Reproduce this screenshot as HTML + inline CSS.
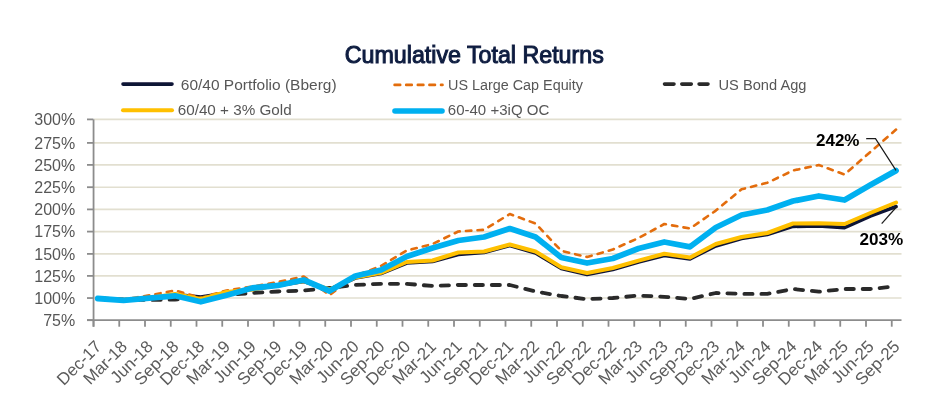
<!DOCTYPE html>
<html><head><meta charset="utf-8"><style>
html,body{margin:0;padding:0;background:#fff;}
body{width:940px;height:406px;overflow:hidden;position:relative;}
svg{position:absolute;left:0;top:0;}
text{font-family:"Liberation Sans",sans-serif;}
.g{stroke:#e2dfd0;stroke-width:1.6;}
.ax{stroke:#8c8c8c;stroke-width:1.8;}
.yl{font-size:16px;fill:#575757;}
.xl{font-size:17px;fill:#5c5c5c;}
.lg{font-size:15.4px;fill:#575757;}
.s{fill:none;stroke-linejoin:round;stroke-linecap:round;}
</style></head><body>
<svg width="940" height="406" viewBox="0 0 940 406">
<defs><filter id="bl" x="0" y="0" width="940" height="406" filterUnits="userSpaceOnUse"><feGaussianBlur stdDeviation="0.4"/></filter></defs><g filter="url(#bl)">
<text x="344.8" y="63" font-size="23" font-weight="normal" fill="#101c40" stroke="#101c40" stroke-width="1.0" textLength="259" lengthAdjust="spacingAndGlyphs">Cumulative Total Returns</text>
<line x1="123" y1="84.1" x2="172" y2="84.1" stroke="#0c1236" stroke-width="3.6" stroke-linecap="round"/>
<text x="180.8" y="89.6" class="lg" textLength="155.8" lengthAdjust="spacingAndGlyphs">60/40 Portfolio (Bberg)</text>
<line x1="394.6" y1="84.9" x2="442.5" y2="84.9" stroke="#e36c0a" stroke-width="2.6" stroke-dasharray="5.6,6" stroke-linecap="round"/>
<text x="448" y="89.6" class="lg" textLength="135" lengthAdjust="spacingAndGlyphs">US Large Cap Equity</text>
<line x1="664.5" y1="84.1" x2="708" y2="84.1" stroke="#2b2b2b" stroke-width="3.6" stroke-dasharray="9.5,7.8" stroke-linecap="round"/>
<text x="718.5" y="89.6" class="lg" textLength="88" lengthAdjust="spacingAndGlyphs">US Bond Agg</text>
<line x1="123" y1="110.2" x2="172" y2="110.2" stroke="#ffc000" stroke-width="4" stroke-linecap="round"/>
<text x="177.7" y="114.8" class="lg" textLength="114" lengthAdjust="spacingAndGlyphs">60/40 + 3% Gold</text>
<line x1="395" y1="111" x2="442" y2="111" stroke="#00b0f0" stroke-width="5.6" stroke-linecap="round"/>
<text x="447.8" y="114.8" class="lg" textLength="101.5" lengthAdjust="spacingAndGlyphs">60-40 +3iQ OC</text>
<line x1="94" y1="119.40" x2="901.5" y2="119.40" class="g"/>
<line x1="94" y1="142.90" x2="901.5" y2="142.90" class="g"/>
<line x1="94" y1="164.90" x2="901.5" y2="164.90" class="g"/>
<line x1="94" y1="187.20" x2="901.5" y2="187.20" class="g"/>
<line x1="94" y1="209.40" x2="901.5" y2="209.40" class="g"/>
<line x1="94" y1="231.60" x2="901.5" y2="231.60" class="g"/>
<line x1="94" y1="253.90" x2="901.5" y2="253.90" class="g"/>
<line x1="94" y1="275.90" x2="901.5" y2="275.90" class="g"/>
<line x1="94" y1="298.05" x2="901.5" y2="298.05" class="g"/>

<line x1="93.55" y1="119.4" x2="93.55" y2="326.7" class="ax"/>
<line x1="87" y1="320.2" x2="901.5" y2="320.2" class="ax"/>
<text x="75.2" y="125.10" text-anchor="end" class="yl">300%</text>
<line x1="87" y1="119.40" x2="93.5" y2="119.40" class="ax"/>
<text x="75.2" y="148.60" text-anchor="end" class="yl">275%</text>
<line x1="87" y1="142.90" x2="93.5" y2="142.90" class="ax"/>
<text x="75.2" y="170.60" text-anchor="end" class="yl">250%</text>
<line x1="87" y1="164.90" x2="93.5" y2="164.90" class="ax"/>
<text x="75.2" y="192.90" text-anchor="end" class="yl">225%</text>
<line x1="87" y1="187.20" x2="93.5" y2="187.20" class="ax"/>
<text x="75.2" y="215.10" text-anchor="end" class="yl">200%</text>
<line x1="87" y1="209.40" x2="93.5" y2="209.40" class="ax"/>
<text x="75.2" y="237.30" text-anchor="end" class="yl">175%</text>
<line x1="87" y1="231.60" x2="93.5" y2="231.60" class="ax"/>
<text x="75.2" y="259.60" text-anchor="end" class="yl">150%</text>
<line x1="87" y1="253.90" x2="93.5" y2="253.90" class="ax"/>
<text x="75.2" y="281.60" text-anchor="end" class="yl">125%</text>
<line x1="87" y1="275.90" x2="93.5" y2="275.90" class="ax"/>
<text x="75.2" y="303.75" text-anchor="end" class="yl">100%</text>
<line x1="87" y1="298.05" x2="93.5" y2="298.05" class="ax"/>
<text x="75.2" y="325.90" text-anchor="end" class="yl">75%</text>
<line x1="87" y1="320.20" x2="93.5" y2="320.20" class="ax"/>

<line x1="93.50" y1="320.2" x2="93.50" y2="326.7" class="ax"/>
<line x1="119.25" y1="320.2" x2="119.25" y2="326.7" class="ax"/>
<line x1="145.00" y1="320.2" x2="145.00" y2="326.7" class="ax"/>
<line x1="170.75" y1="320.2" x2="170.75" y2="326.7" class="ax"/>
<line x1="196.50" y1="320.2" x2="196.50" y2="326.7" class="ax"/>
<line x1="222.25" y1="320.2" x2="222.25" y2="326.7" class="ax"/>
<line x1="248.00" y1="320.2" x2="248.00" y2="326.7" class="ax"/>
<line x1="273.75" y1="320.2" x2="273.75" y2="326.7" class="ax"/>
<line x1="299.50" y1="320.2" x2="299.50" y2="326.7" class="ax"/>
<line x1="325.25" y1="320.2" x2="325.25" y2="326.7" class="ax"/>
<line x1="351.00" y1="320.2" x2="351.00" y2="326.7" class="ax"/>
<line x1="376.75" y1="320.2" x2="376.75" y2="326.7" class="ax"/>
<line x1="402.50" y1="320.2" x2="402.50" y2="326.7" class="ax"/>
<line x1="428.25" y1="320.2" x2="428.25" y2="326.7" class="ax"/>
<line x1="454.00" y1="320.2" x2="454.00" y2="326.7" class="ax"/>
<line x1="479.75" y1="320.2" x2="479.75" y2="326.7" class="ax"/>
<line x1="505.50" y1="320.2" x2="505.50" y2="326.7" class="ax"/>
<line x1="531.25" y1="320.2" x2="531.25" y2="326.7" class="ax"/>
<line x1="557.00" y1="320.2" x2="557.00" y2="326.7" class="ax"/>
<line x1="582.75" y1="320.2" x2="582.75" y2="326.7" class="ax"/>
<line x1="608.50" y1="320.2" x2="608.50" y2="326.7" class="ax"/>
<line x1="634.25" y1="320.2" x2="634.25" y2="326.7" class="ax"/>
<line x1="660.00" y1="320.2" x2="660.00" y2="326.7" class="ax"/>
<line x1="685.75" y1="320.2" x2="685.75" y2="326.7" class="ax"/>
<line x1="711.50" y1="320.2" x2="711.50" y2="326.7" class="ax"/>
<line x1="737.25" y1="320.2" x2="737.25" y2="326.7" class="ax"/>
<line x1="763.00" y1="320.2" x2="763.00" y2="326.7" class="ax"/>
<line x1="788.75" y1="320.2" x2="788.75" y2="326.7" class="ax"/>
<line x1="814.50" y1="320.2" x2="814.50" y2="326.7" class="ax"/>
<line x1="840.25" y1="320.2" x2="840.25" y2="326.7" class="ax"/>
<line x1="866.00" y1="320.2" x2="866.00" y2="326.7" class="ax"/>
<line x1="891.75" y1="320.2" x2="891.75" y2="326.7" class="ax"/>

<text transform="translate(98.99,344) rotate(-45)" x="0" y="5" text-anchor="end" class="xl">Dec-17</text>
<text transform="translate(124.74,344) rotate(-45)" x="0" y="5" text-anchor="end" class="xl">Mar-18</text>
<text transform="translate(150.49,344) rotate(-45)" x="0" y="5" text-anchor="end" class="xl">Jun-18</text>
<text transform="translate(176.24,344) rotate(-45)" x="0" y="5" text-anchor="end" class="xl">Sep-18</text>
<text transform="translate(201.99,344) rotate(-45)" x="0" y="5" text-anchor="end" class="xl">Dec-18</text>
<text transform="translate(227.74,344) rotate(-45)" x="0" y="5" text-anchor="end" class="xl">Mar-19</text>
<text transform="translate(253.49,344) rotate(-45)" x="0" y="5" text-anchor="end" class="xl">Jun-19</text>
<text transform="translate(279.24,344) rotate(-45)" x="0" y="5" text-anchor="end" class="xl">Sep-19</text>
<text transform="translate(304.99,344) rotate(-45)" x="0" y="5" text-anchor="end" class="xl">Dec-19</text>
<text transform="translate(330.74,344) rotate(-45)" x="0" y="5" text-anchor="end" class="xl">Mar-20</text>
<text transform="translate(356.49,344) rotate(-45)" x="0" y="5" text-anchor="end" class="xl">Jun-20</text>
<text transform="translate(382.24,344) rotate(-45)" x="0" y="5" text-anchor="end" class="xl">Sep-20</text>
<text transform="translate(407.99,344) rotate(-45)" x="0" y="5" text-anchor="end" class="xl">Dec-20</text>
<text transform="translate(433.74,344) rotate(-45)" x="0" y="5" text-anchor="end" class="xl">Mar-21</text>
<text transform="translate(459.49,344) rotate(-45)" x="0" y="5" text-anchor="end" class="xl">Jun-21</text>
<text transform="translate(485.24,344) rotate(-45)" x="0" y="5" text-anchor="end" class="xl">Sep-21</text>
<text transform="translate(510.99,344) rotate(-45)" x="0" y="5" text-anchor="end" class="xl">Dec-21</text>
<text transform="translate(536.74,344) rotate(-45)" x="0" y="5" text-anchor="end" class="xl">Mar-22</text>
<text transform="translate(562.49,344) rotate(-45)" x="0" y="5" text-anchor="end" class="xl">Jun-22</text>
<text transform="translate(588.24,344) rotate(-45)" x="0" y="5" text-anchor="end" class="xl">Sep-22</text>
<text transform="translate(613.99,344) rotate(-45)" x="0" y="5" text-anchor="end" class="xl">Dec-22</text>
<text transform="translate(639.74,344) rotate(-45)" x="0" y="5" text-anchor="end" class="xl">Mar-23</text>
<text transform="translate(665.49,344) rotate(-45)" x="0" y="5" text-anchor="end" class="xl">Jun-23</text>
<text transform="translate(691.24,344) rotate(-45)" x="0" y="5" text-anchor="end" class="xl">Sep-23</text>
<text transform="translate(716.99,344) rotate(-45)" x="0" y="5" text-anchor="end" class="xl">Dec-23</text>
<text transform="translate(742.74,344) rotate(-45)" x="0" y="5" text-anchor="end" class="xl">Mar-24</text>
<text transform="translate(768.49,344) rotate(-45)" x="0" y="5" text-anchor="end" class="xl">Jun-24</text>
<text transform="translate(794.24,344) rotate(-45)" x="0" y="5" text-anchor="end" class="xl">Sep-24</text>
<text transform="translate(819.99,344) rotate(-45)" x="0" y="5" text-anchor="end" class="xl">Dec-24</text>
<text transform="translate(845.74,344) rotate(-45)" x="0" y="5" text-anchor="end" class="xl">Mar-25</text>
<text transform="translate(871.49,344) rotate(-45)" x="0" y="5" text-anchor="end" class="xl">Jun-25</text>
<text transform="translate(897.24,344) rotate(-45)" x="0" y="5" text-anchor="end" class="xl">Sep-25</text>

<polyline class="s" points="97.79,298.20 123.54,300.00 149.29,298.00 175.04,294.50 200.79,297.00 226.54,293.00 252.29,289.50 278.04,285.50 303.79,281.50 329.54,289.50 355.29,278.00 381.04,273.50 406.79,263.00 432.54,261.50 458.29,254.50 484.04,252.50 509.79,245.50 535.54,253.00 561.29,268.50 587.04,274.50 612.79,269.50 638.54,262.00 664.29,255.50 690.04,259.00 715.79,246.00 741.54,238.50 767.29,234.50 793.04,226.40 818.79,226.00 844.54,227.60 870.29,216.00 896.04,206.50" stroke="#0c1236" stroke-width="3.6"/>
<polyline class="s" points="97.79,298.20 123.54,299.50 149.29,295.30 175.04,290.50 200.79,297.80 226.54,290.50 252.29,286.50 278.04,282.00 303.79,276.50 329.54,295.00 355.29,275.80 381.04,266.00 406.79,250.50 432.54,244.00 458.29,231.50 484.04,229.80 509.79,214.00 535.54,223.50 561.29,250.80 587.04,257.00 612.79,249.50 638.54,238.00 664.29,224.00 690.04,228.50 715.79,210.60 741.54,189.30 767.29,182.80 793.04,170.50 818.79,165.00 844.54,174.50 870.29,152.00 896.04,129.60" stroke="#e36c0a" stroke-width="2.6" stroke-dasharray="5.4,6.2"/>
<polyline class="s" points="97.79,298.20 123.54,299.50 149.29,300.00 175.04,299.60 200.79,298.00 226.54,295.00 252.29,293.00 278.04,291.50 303.79,290.50 329.54,288.00 355.29,285.00 381.04,283.80 406.79,283.80 432.54,286.00 458.29,285.00 484.04,285.00 509.79,285.00 535.54,291.50 561.29,296.00 587.04,299.20 612.79,298.00 638.54,295.60 664.29,296.80 690.04,299.00 715.79,293.00 741.54,293.90 767.29,293.90 793.04,289.00 818.79,291.70 844.54,289.00 870.29,289.00 896.04,286.30" stroke="#2b2b2b" stroke-width="3.8" stroke-dasharray="8.2,8.8" stroke-dashoffset="-3.8"/>
<polyline class="s" points="97.79,298.20 123.54,300.00 149.29,298.00 175.04,294.00 200.79,299.00 226.54,292.00 252.29,289.50 278.04,285.00 303.79,281.00 329.54,289.50 355.29,277.50 381.04,272.80 406.79,262.00 432.54,260.50 458.29,252.50 484.04,251.50 509.79,244.50 535.54,251.50 561.29,267.20 587.04,273.00 612.79,268.00 638.54,260.60 664.29,253.80 690.04,257.50 715.79,244.00 741.54,237.00 767.29,233.00 793.04,223.50 818.79,223.30 844.54,224.00 870.29,213.00 896.04,202.50" stroke="#ffc000" stroke-width="4"/>
<polyline class="s" points="97.79,298.50 123.54,300.30 149.29,298.20 175.04,295.80 200.79,301.80 226.54,295.20 252.29,288.00 278.04,285.30 303.79,280.00 329.54,291.00 355.29,276.00 381.04,270.00 406.79,256.50 432.54,248.00 458.29,240.50 484.04,237.00 509.79,228.60 535.54,237.00 561.29,257.50 587.04,263.00 612.79,258.50 638.54,248.50 664.29,242.00 690.04,246.80 715.79,227.50 741.54,215.00 767.29,210.00 793.04,201.00 818.79,196.00 844.54,200.00 870.29,185.00 896.04,170.60" stroke="#00b0f0" stroke-width="5.8"/>
<text x="816" y="146.3" font-size="17" font-weight="bold" fill="#000" textLength="43.5" lengthAdjust="spacingAndGlyphs">242%</text>
<polyline points="866.2,138.6 875.5,138.6 896,170.4" fill="none" stroke="#1a1a1a" stroke-width="1.2"/>
<text x="859.5" y="245.4" font-size="17" font-weight="bold" fill="#000" textLength="43.8" lengthAdjust="spacingAndGlyphs">203%</text>
<line x1="881.7" y1="223.7" x2="896.9" y2="206.5" stroke="#1a1a1a" stroke-width="1.2"/>
</g></svg>
</body></html>
